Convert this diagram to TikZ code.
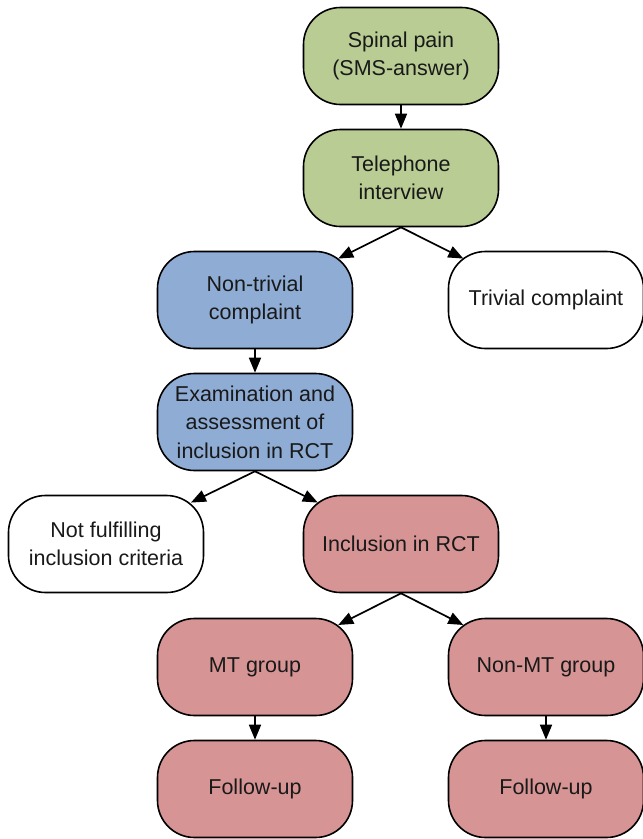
\documentclass[tikz,border=0pt]{standalone}
\usepackage{fontspec}
\setmainfont{Liberation Sans}
\usetikzlibrary{arrows.meta,calc}

\definecolor{verde}{RGB}{184,204,148}
\definecolor{azul}{RGB}{142,172,212}
\definecolor{rojo}{RGB}{215,148,148}

\tikzset{
	caja/.style={draw=black, line width=1.6pt, rounded corners=37pt, minimum width=195pt, minimum height=97pt, align=center, inner sep=0pt, font=\fontsize{21.5}{28.5}\selectfont, text=black!90},
	flecha/.style={line width=1.7pt, -{Triangle[length=15pt,width=12pt]}}
}

\begin{document}
\begin{tikzpicture}[x=1pt,y=-1pt]
		\useasboundingbox (0,0) rectangle (643,839);
	% Cajas
		\node[caja, fill=verde] (dolor) at (401,56) {Spinal pain\\(SMS-answer)};
		\node[caja, fill=verde] (tel) at (401,178) {Telephone\\interview};
		\node[caja, fill=azul] (notriv) at (255,300) {Non-trivial\\complaint};
		\node[caja, fill=white] (triv) at (546,300) {Trivial complaint};
		\node[caja, fill=azul] (exam) at (255,422) {Examination and\\assessment of\\inclusion in RCT};
		\node[caja, fill=white] (nocrit) at (106,544) {Not fulfilling\\inclusion criteria};
		\node[caja, fill=rojo] (incl) at (401,544) {Inclusion in RCT};
		\node[caja, fill=rojo] (mt) at (255,667) {MT group};
		\node[caja, fill=rojo] (nomt) at (546,667) {Non-MT group};
		\node[caja, fill=rojo] (segmt) at (255,789) {Follow-up};
		\node[caja, fill=rojo] (segnomt) at (546,789) {Follow-up};
	% Flechas
		\draw[flecha] (dolor) -- (tel);
		\draw[flecha] (tel.south) -- ($(tel.south)!0.43!(notriv)$);
		\draw[flecha] (tel.south) -- ($(tel.south)!0.43!(triv)$);
		\draw[flecha] (notriv) -- (exam);
		\draw[flecha] (exam.south) -- ($(exam.south)!0.43!(nocrit)$);
		\draw[flecha] (exam.south) -- ($(exam.south)!0.43!(incl)$);
		\draw[flecha] (incl.south) -- ($(incl.south)!0.43!(mt)$);
		\draw[flecha] (incl.south) -- ($(incl.south)!0.43!(nomt)$);
		\draw[flecha] (mt) -- (segmt);
		\draw[flecha] (nomt) -- (segnomt);
\end{tikzpicture}
\end{document}
